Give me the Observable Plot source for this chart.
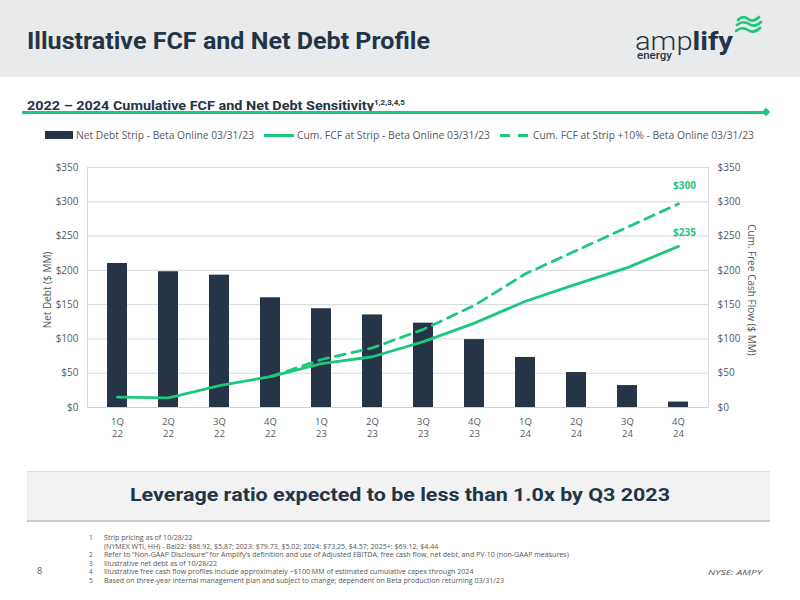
<!DOCTYPE html>
<html><head><meta charset="utf-8">
<script src="https://cdn.jsdelivr.net/npm/d3@7"></script>
<script src="https://cdn.jsdelivr.net/npm/@observablehq/plot@0.6"></script>
<style>
body{margin:0;width:800px;height:600px;position:relative;overflow:hidden;background:#fff;font-family:"Open Sans",sans-serif;}
.abs{position:absolute;white-space:nowrap;transform-origin:0 50%;}
#header{position:absolute;left:0;top:0;width:800px;height:77px;background:#e9eaec;}
.leg{font-size:10.5px;color:#595959;line-height:14px;}
.fn{font-size:6.5px;color:#555;line-height:8px;}
</style></head><body>
<div id="header"></div>
<div class="abs" id="title" style="left:27px;top:26px;font:700 24px Roboto;color:#243447;line-height:30px;">Illustrative FCF and Net Debt Profile</div>
<div class="abs" id="logo" style="left:635px;top:27.5px;font-family:Roboto;color:#243447;line-height:26px;font-size:26px;"><span style="font-weight:300">amp</span><span style="font-weight:700">lify</span></div>
<div class="abs" id="energy" style="left:637px;top:50px;font:500 11px Roboto;color:#243447;line-height:11px;">energy</div>
<svg class="abs" style="left:735px;top:14px;" width="28" height="20" viewBox="0 0 28 20">
<path d="M3 6 Q8 1 13 5 T24 3" fill="none" stroke="#1dc77e" stroke-width="2.6" stroke-linecap="round"/>
<path d="M2 11 Q8 6 14 10 T26 8" fill="none" stroke="#1dc77e" stroke-width="2.6" stroke-linecap="round"/>
<path d="M1 17 Q7 12 13 16 T25 14" fill="none" stroke="#1dc77e" stroke-width="2.6" stroke-linecap="round"/>
</svg>
<div class="abs" id="subtitle" style="left:27px;top:95px;font:700 12.5px Roboto;color:#243447;line-height:16px;">2022 – 2024 Cumulative FCF and Net Debt Sensitivity<sup style="font-size:7px;vertical-align:5px;">1,2,3,4,5</sup></div>
<div class="abs" style="left:22px;top:111px;width:743px;height:3px;background:#1dc77e;"></div>
<div class="abs" style="left:763px;top:109px;width:6px;height:6px;background:#1dc77e;transform:rotate(45deg);transform-origin:50% 50%;"></div>

<div class="abs" style="left:45px;top:131px;width:28px;height:8px;background:#253545;"></div>
<div class="abs leg" id="l1" style="left:76px;top:128px;">Net Debt Strip - Beta Online 03/31/23</div>
<div class="abs" style="left:264px;top:133.5px;width:30px;height:3px;background:#1dc77e;"></div>
<div class="abs leg" id="l2" style="left:297px;top:128px;">Cum. FCF at Strip - Beta Online 03/31/23</div>
<div class="abs" style="left:500px;top:133.5px;width:10px;height:3px;background:#1dc77e;"></div>
<div class="abs" style="left:518px;top:133.5px;width:10px;height:3px;background:#1dc77e;"></div>
<div class="abs leg" id="l3" style="left:533px;top:128px;">Cum. FCF at Strip +10% - Beta Online 03/31/23</div>

<div id="chart" class="abs" style="left:0;top:155px;"></div>
<div class="abs" id="ylabL" style="left:47px;top:290px;font-size:10px;color:#595959;transform:translate(-50%,-50%) rotate(-90deg);transform-origin:50% 50%;">Net Debt ($ MM)</div>
<div class="abs" id="ylabR" style="left:752px;top:290px;font-size:10px;color:#595959;transform:translate(-50%,-50%) rotate(90deg);transform-origin:50% 50%;">Cum. Free Cash Flow ($ MM)</div>

<div class="abs" style="left:27px;top:471px;width:743px;height:48px;background:#f2f2f2;border-top:1px solid #e0e0e0;border-bottom:2px solid #c9c9c9;"></div>
<div class="abs" id="box" style="left:130px;top:482px;font:700 19px Roboto;color:#243447;line-height:26px;">Leverage ratio expected to be less than 1.0x by Q3 2023</div>

<div id="notes"></div>
<div class="abs" style="left:37px;top:565px;font-size:9px;color:#595959;line-height:12px;">8</div>
<div class="abs" id="nyse" style="left:708px;top:566px;font-size:8px;font-style:italic;color:#595959;line-height:11px;">NYSE: AMPY</div>

<script>
const quarters = ["1Q 22","2Q 22","3Q 22","4Q 22","1Q 23","2Q 23","3Q 23","4Q 23","1Q 24","2Q 24","3Q 24","4Q 24"];
const netDebt = [210,198,193,160,144,135,123,99,73,51,32,8];
const cumFCF = [15,14,32,45,64,74,96,123,155,180,204,235];
const cumFCF10 = [null,null,null,45,70,87,114,149,195,229,263,297];
const yTicks = [0,50,100,150,200,250,300,350];
const endLabels = ["$300","$235"];
const noteNums = ["1","","2","3","4","5"];
const noteTexts = [
 "Strip pricing as of 10/28/22",
 "(NYMEX WTI, HH) - Bal22: $86.92, $5.87; 2023: $79.73, $5.02; 2024: $73.25, $4.57; 2025+: $69.12, $4.44",
 "Refer to “Non-GAAP Disclosure” for Amplify’s definition and use of Adjusted EBITDA, free cash flow, net debt, and PV-10 (non-GAAP measures)",
 "Illustrative net debt as of 10/28/22",
 "Illustrative free cash flow profiles include approximately ~$100 MM of estimated cumulative capex through 2024",
 "Based on three-year internal management plan and subject to change; dependent on Beta production returning 03/31/23"
];

const green = "#1dc77e";
const debtRows = quarters.map((q,i)=>({q, v: netDebt[i]}));
const fcfRows = quarters.map((q,i)=>({q, v: cumFCF[i]}));
const fcf10Rows = quarters.map((q,i)=>({q, v: cumFCF10[i]})).filter(d=>d.v!=null);
const last = quarters.length-1;

const chart = Plot.plot({
 width:800, height:290, marginTop:12, marginBottom:38, marginLeft:87, marginRight:92,
 style:{fontFamily:"Open Sans", fontSize:"10px", color:"#595959", background:"transparent"},
 x:{domain:quarters, paddingInner:0.6, paddingOuter:0.3, label:null},
 y:{domain:[0,350], label:null},
 marks:[
  Plot.gridY(yTicks,{stroke:"#d9d9d9", strokeOpacity:1}),
  Plot.frame({anchor:"left", stroke:"#d9d9d9"}),
  Plot.frame({anchor:"right", stroke:"#d9d9d9"}),
  Plot.barY(debtRows,{x:"q", y:"v", fill:"#253545"}),
  Plot.ruleY([0],{stroke:"#d0d0d0"}),
  Plot.line(fcfRows,{x:"q", y:"v", stroke:green, strokeWidth:2.8}),
  Plot.line(fcf10Rows,{x:"q", y:"v", stroke:green, strokeWidth:2.8, strokeDasharray:"10,7"}),
  Plot.text([{q:quarters[last], v:cumFCF10[last], t:endLabels[0]}],{x:"q", y:"v", text:"t", dx:6, dy:-18, fill:green, fontWeight:700, fontSize:10}),
  Plot.text([{q:quarters[last], v:cumFCF[last], t:endLabels[1]}],{x:"q", y:"v", text:"t", dx:6, dy:-14, fill:green, fontWeight:700, fontSize:10}),
  Plot.axisY(yTicks,{anchor:"left", tickSize:0, tickPadding:9, tickFormat:d=>"$"+d, label:null}),
  Plot.axisY(yTicks,{anchor:"right", tickSize:0, tickPadding:9, tickFormat:d=>"$"+d, label:null}),
  Plot.axisX({tickSize:0, tickPadding:8, tickFormat:d=>d.replace(" ","\n"), label:null, fontSize:9.5, lineHeight:1.35})
 ]
});
document.getElementById("chart").appendChild(chart);

const notes = document.getElementById("notes");
noteTexts.forEach((t,i)=>{
 const y = 534 + 8.6*i;
 const n = document.createElement("div"); n.className="abs fn"; n.style.left="89px"; n.style.top=y+"px"; n.textContent=noteNums[i]; notes.appendChild(n);
 const d = document.createElement("div"); d.className="abs fn note"; d.style.left="104px"; d.style.top=y+"px"; d.textContent=t; notes.appendChild(d);
});

function fit(el, w){ const r = el.getBoundingClientRect().width; if(r>0) el.style.transform = "scaleX("+(w/r)+")"; return w/r; }
function doFit(){
 fit(document.getElementById("title"), 403);
 fit(document.getElementById("logo"), 98);
 fit(document.getElementById("energy"), 35);
 fit(document.getElementById("subtitle"), 378);
 fit(document.getElementById("l1"), 178);
 fit(document.getElementById("l2"), 193);
 fit(document.getElementById("l3"), 221);
 fit(document.getElementById("box"), 540);
 fit(document.getElementById("nyse"), 54);
 const ns = document.querySelectorAll(".note");
 const s = fit(ns[5], 400);
 ns.forEach(e=>e.style.transform="scaleX("+s+")");
}
doFit();
</script>
</body></html>
